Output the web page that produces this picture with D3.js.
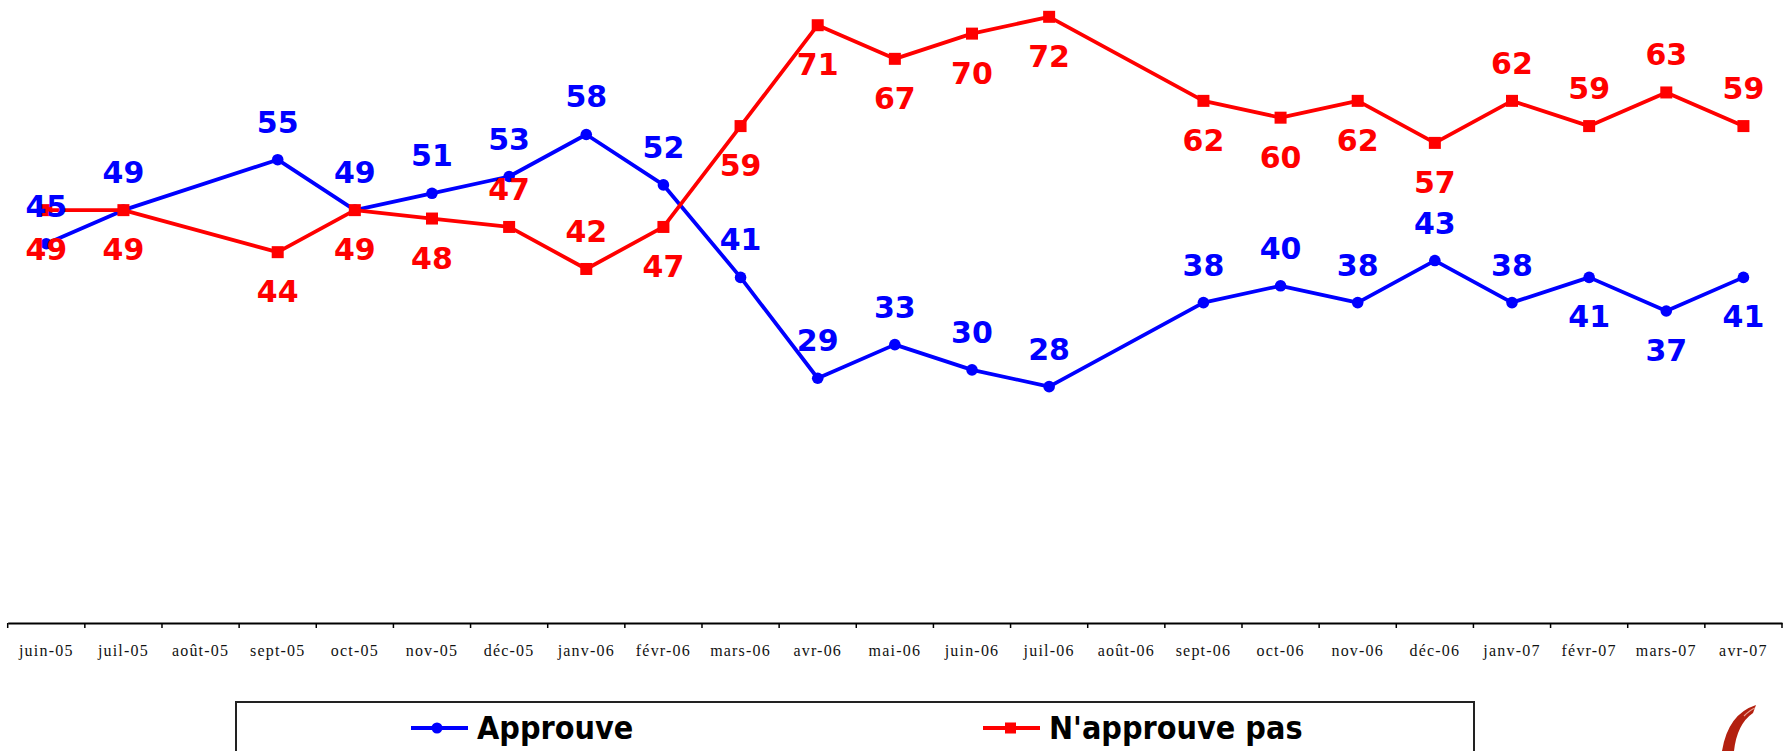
<!DOCTYPE html>
<html>
<head>
<meta charset="utf-8">
<script src="https://cdn.jsdelivr.net/npm/d3@7"></script>
<style>
  body { margin: 0; background: #fff; }
  svg { display: block; }
</style>
</head>
<body>
<svg id="chart"></svg>
<script>
// data
const months = ['juin-05', 'juil-05', 'août-05', 'sept-05', 'oct-05', 'nov-05', 'déc-05',
  'janv-06', 'févr-06', 'mars-06', 'avr-06', 'mai-06', 'juin-06', 'juil-06', 'août-06',
  'sept-06', 'oct-06', 'nov-06', 'déc-06', 'janv-07', 'févr-07', 'mars-07', 'avr-07']
const approuve = [45, 49, null, 55, 49, 51, 53, 58, 52, 41, 29, 33, 30, 28, null,
  38, 40, 38, 43, 38, 41, 37, 41]
const nApprouve = [49, 49, null, 44, 49, 48, 47, 42, 47, 59, 71, 67, 70, 72, null,
  62, 60, 62, 57, 62, 59, 63, 59]
// which labels sit under their point (approuve) / over it (n'approuve pas)
const approuveBelow = ['févr-07', 'mars-07', 'avr-07']
const nApprouveAbove = ['déc-05', 'janv-06', 'janv-07', 'févr-07', 'mars-07', 'avr-07']

const width = 1787
const height = 751
const svg = d3.select('#chart').attr('width', width).attr('height', height)

const x = d3.scaleBand().domain(months).range([7.7, 1782])
const y = d3.scaleLinear().domain([0, 74]).range([622, 0])
const cx = m => x(m) + x.bandwidth() / 2

const series = [
  { name: 'Approuve', color: '#0000ff', values: approuve, shape: 'circle',
    above: m => !approuveBelow.includes(m) },
  { name: "N'approuve pas", color: '#ff0000', values: nApprouve, shape: 'square',
    above: m => nApprouveAbove.includes(m) }
]

// axis
const axis = svg.append('g')
  .attr('transform', `translate(0,${y(0) + 1})`)
  .call(d3.axisBottom(x).tickSize(0).tickPadding(22).tickSizeOuter(0))
axis.select('.domain').attr('stroke', '#000').attr('stroke-width', 2)
axis.selectAll('text')
  .attr('font-family', '"Liberation Serif", "Times New Roman", serif')
  .attr('font-size', 16)
  .attr('letter-spacing', 1.2)
  .attr('fill', '#111')
axis.selectAll('.bound')
  .data(months.map(m => x(m)).concat([x.range()[1]]))
  .enter()
  .append('line')
  .attr('class', 'bound')
  .attr('x1', d => d).attr('x2', d => d)
  .attr('y1', 0).attr('y2', 5)
  .attr('stroke', '#000')
  .attr('stroke-width', 1.5)

const line = d3.line()
  .x(d => cx(d.m))
  .y(d => y(d.v))

const marks = svg.append('g')
series.forEach(s => {
  const pts = months.map((m, i) => ({ m, v: s.values[i] })).filter(d => d.v != null)
  s.pts = pts
  marks.append('path')
    .datum(pts)
    .attr('fill', 'none')
    .attr('stroke', s.color)
    .attr('stroke-width', 3.8)
    .attr('stroke-linejoin', 'round')
    .attr('d', line)
  if (s.shape === 'circle') {
    marks.selectAll(null).data(pts).enter()
      .append('circle')
      .attr('cx', d => cx(d.m))
      .attr('cy', d => y(d.v))
      .attr('r', 5.8)
      .attr('fill', s.color)
  } else {
    marks.selectAll(null).data(pts).enter()
      .append('rect')
      .attr('x', d => cx(d.m) - 6)
      .attr('y', d => y(d.v) - 6)
      .attr('width', 12)
      .attr('height', 12)
      .attr('fill', s.color)
  }
})

// value labels
const labels = svg.append('g')
  .attr('font-family', '"DejaVu Sans", Verdana, sans-serif')
  .attr('font-weight', 'bold')
  .attr('font-size', 30)
  .attr('text-anchor', 'middle')
series.forEach(s => {
  labels.selectAll(null).data(s.pts).enter()
    .append('text')
    .attr('x', d => cx(d.m))
    .attr('y', d => y(d.v) + (s.above(d.m) ? -27 : 50))
    .attr('fill', s.color)
    .text(d => d.v)
})

// legend
const legend = svg.append('g')
legend.append('rect')
  .attr('x', 236).attr('y', 702)
  .attr('width', 1238).attr('height', 90)
  .attr('fill', 'none')
  .attr('stroke', '#222')
  .attr('stroke-width', 2)
const legendPos = [411, 983]
series.forEach((s, i) => {
  const g = legend.append('g').attr('transform', `translate(${legendPos[i]},728)`)
  g.append('line')
    .attr('x1', 0).attr('x2', 57)
    .attr('stroke', s.color).attr('stroke-width', 4)
  if (s.shape === 'circle') {
    g.append('circle').attr('cx', 26).attr('r', 5.5).attr('fill', s.color)
  } else {
    g.append('rect').attr('x', 22).attr('y', -5.5).attr('width', 11).attr('height', 11).attr('fill', s.color)
  }
  g.append('text')
    .attr('x', 66)
    .attr('y', 11)
    .attr('font-family', '"DejaVu Sans Condensed", "DejaVu Sans", sans-serif')
    .attr('font-stretch', 'condensed')
    .attr('font-weight', 'bold')
    .attr('font-size', 32)
    .attr('fill', '#000')
    .text(s.name)
})

// corner logo fragment
svg.append('path')
  .attr('d', 'M1722,751 Q1728,714 1756,705 L1753,713 Q1737,724 1734,751 Z')
  .attr('fill', '#b3200f')
svg.append('path')
  .attr('d', 'M1744,716 Q1750,710 1755,708')
  .attr('fill', 'none')
  .attr('stroke', '#e8a090')
  .attr('stroke-width', 1.2)
</script>
</body>
</html>
